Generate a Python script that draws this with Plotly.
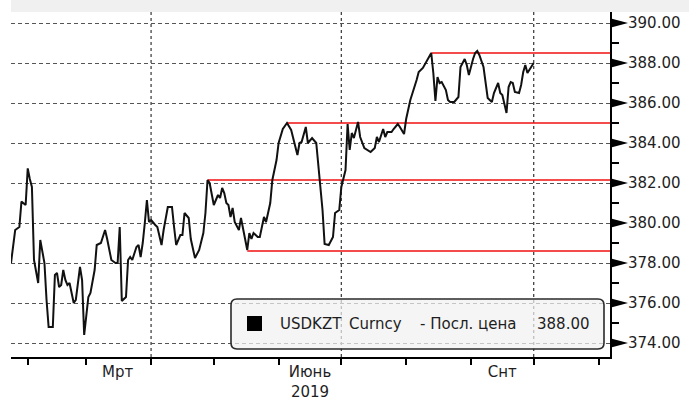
import plotly.graph_objects as go

# ---------------- data ----------------
dates = [
    # Jan / Feb
    "2019-01-24", "2019-01-26", "2019-01-28", "2019-01-29", "2019-01-31",
    "2019-02-01", "2019-02-02", "2019-02-03", "2019-02-04", "2019-02-05",
    "2019-02-06", "2019-02-07", "2019-02-08", "2019-02-09", "2019-02-10",
    "2019-02-11", "2019-02-13", "2019-02-14", "2019-02-15", "2019-02-16",
    "2019-02-17", "2019-02-18", "2019-02-19", "2019-02-20", "2019-02-21",
    "2019-02-22", "2019-02-23", "2019-02-24", "2019-02-26", "2019-02-27",
    "2019-02-28",
    # Mar
    "2019-03-02", "2019-03-03", "2019-03-05", "2019-03-06", "2019-03-08",
    "2019-03-10", "2019-03-11", "2019-03-13", "2019-03-15", "2019-03-16",
    "2019-03-17", "2019-03-18", "2019-03-20", "2019-03-21", "2019-03-22",
    "2019-03-23", "2019-03-25", "2019-03-26", "2019-03-27", "2019-03-28",
    "2019-03-29", "2019-03-30", "2019-03-31",
    # Apr
    "2019-04-01", "2019-04-03", "2019-04-04", "2019-04-06", "2019-04-07",
    "2019-04-09", "2019-04-11", "2019-04-12", "2019-04-13", "2019-04-15",
    "2019-04-16", "2019-04-17", "2019-04-19", "2019-04-20", "2019-04-22",
    "2019-04-24", "2019-04-26", "2019-04-27", "2019-04-28", "2019-04-29",
    # May
    "2019-05-01", "2019-05-03", "2019-05-04", "2019-05-05", "2019-05-06",
    "2019-05-07", "2019-05-08", "2019-05-09", "2019-05-10", "2019-05-11",
    "2019-05-13", "2019-05-14", "2019-05-15", "2019-05-16", "2019-05-17",
    "2019-05-18", "2019-05-19", "2019-05-20", "2019-05-22", "2019-05-23",
    "2019-05-24", "2019-05-25", "2019-05-26", "2019-05-28", "2019-05-29",
    "2019-05-31",
    # Jun
    "2019-06-01", "2019-06-03", "2019-06-05", "2019-06-07", "2019-06-10",
    "2019-06-11", "2019-06-12", "2019-06-14", "2019-06-15", "2019-06-17",
    "2019-06-19", "2019-06-20", "2019-06-22", "2019-06-23", "2019-06-25",
    "2019-06-27", "2019-06-28", "2019-06-30",
    # Jul
    "2019-07-01", "2019-07-03", "2019-07-04", "2019-07-05", "2019-07-06",
    "2019-07-07", "2019-07-08", "2019-07-09", "2019-07-10", "2019-07-12",
    "2019-07-15", "2019-07-17", "2019-07-18", "2019-07-19", "2019-07-21",
    "2019-07-22", "2019-07-23", "2019-07-25", "2019-07-26", "2019-07-28",
    "2019-07-29", "2019-07-31",
    # Aug
    "2019-08-01", "2019-08-03", "2019-08-06", "2019-08-07", "2019-08-09",
    "2019-08-11", "2019-08-13", "2019-08-14", "2019-08-15", "2019-08-16",
    "2019-08-17", "2019-08-18", "2019-08-20", "2019-08-21", "2019-08-22",
    "2019-08-24", "2019-08-26", "2019-08-27", "2019-08-29", "2019-08-30",
    "2019-08-31",
    # Sep / Oct
    "2019-09-02", "2019-09-03", "2019-09-04", "2019-09-05", "2019-09-07",
    "2019-09-08", "2019-09-09", "2019-09-11", "2019-09-12", "2019-09-14",
    "2019-09-15", "2019-09-16", "2019-09-17", "2019-09-18", "2019-09-19",
    "2019-09-20", "2019-09-21", "2019-09-22", "2019-09-24", "2019-09-25",
    "2019-09-26", "2019-09-27", "2019-09-28", "2019-09-30", "2019-10-01",
]

usdkzt = [
    # Jan / Feb
    378.0, 379.65, 379.8, 381.07, 380.9,
    382.73, 382.2, 381.8, 378.15, 377.5,
    377.0, 379.15, 378.5, 378.0, 376.15,
    374.8, 374.8, 377.4, 377.5, 376.8,
    376.9, 377.65, 377.15, 376.9, 377.0,
    376.5, 376.0, 376.15, 377.8, 377.15,
    374.4,
    # Mar
    376.3, 376.5, 377.65, 378.9, 379.0,
    379.65, 379.2, 378.15, 378.0, 378.0,
    379.8, 376.1, 376.3, 378.15, 378.3,
    378.15, 378.8, 378.9, 378.3, 379.0,
    380.0, 381.15, 380.05,
    # Apr
    380.15, 379.9, 379.8, 378.9, 379.65,
    380.8, 380.8, 379.8, 378.9, 379.4,
    379.4, 380.5, 380.25, 379.2, 378.25,
    378.65, 379.5, 380.5, 382.15, 382.0,
    # May
    380.9, 381.4, 381.25, 381.75, 381.5,
    381.0, 380.9, 380.3, 380.75, 380.05,
    379.65, 380.25, 379.65, 379.05, 378.65,
    379.5, 379.2, 379.5, 379.3, 379.3,
    379.9, 380.3, 380.05, 381.0, 382.15,
    383.15,
    # Jun
    384.0, 384.7, 385.0, 384.65, 383.4,
    384.0, 384.05, 384.8, 384.0, 384.25,
    384.0, 382.8, 380.65, 378.95, 378.9,
    379.3, 380.5, 380.65,
    # Jul
    381.8, 382.65, 384.95, 383.65, 384.5,
    384.25, 384.65, 385.05, 384.3, 383.75,
    383.55, 383.75, 384.3, 384.05, 384.7,
    384.3, 384.55, 384.55, 384.7, 384.95,
    384.8, 384.45,
    # Aug
    385.2, 386.15, 387.15, 387.55, 387.75,
    388.15, 388.5, 387.5, 386.1, 387.3,
    387.0, 387.05, 386.65, 386.15, 386.05,
    386.05, 386.3, 387.8, 388.2, 387.9,
    387.4,
    # Sep / Oct
    388.2, 388.5, 388.6, 388.4, 387.8,
    387.0, 386.25, 386.05, 386.5, 387.0,
    386.5, 386.4, 385.9, 385.5, 386.8,
    387.05, 387.0, 386.55, 386.5, 386.9,
    387.55, 387.9, 387.5, 387.8, 388.0,
]
assert len(dates) == len(usdkzt)

# horizontal support / resistance levels (start date, level)
level_start = ["2019-04-28", "2019-05-17", "2019-06-05", "2019-08-13"]
level_value = [382.15, 378.6, 385.0, 388.5]

y_ticks = [374, 376, 378, 380, 382, 384, 386, 388, 390]
y_minor = [375, 377, 379, 381, 383, 385, 387, 389]
month_starts = ["2019-02-01", "2019-03-01", "2019-04-01", "2019-05-01",
                "2019-06-01", "2019-07-01", "2019-08-01", "2019-09-01",
                "2019-10-01", "2019-11-01"]
quarter_starts = ["2019-04-01", "2019-07-01", "2019-10-01"]
label_dates = ["2019-03-16", "2019-06-16", "2019-09-16"]
label_text = ["Мрт", "Июнь<br>2019", "Снт"]
legend_parts = ["USDKZT", "Curncy", "- Посл. цена"]

X_RANGE = ["2019-01-24", "2019-11-06 12:00"]
Y_RANGE = [373.3, 390.55]

# ---------------- layout geometry ----------------
W, H = 689, 401
ML, MR, MT, MB = 11, 79, 12, 44
PW, PH = W - ML - MR, H - MT - MB
FONT = "DejaVu Sans"
TXT = "#1e1e1e"


def px_x(px):
    return (px - ML) / PW


def px_y(py):
    return (H - MB - py) / PH


fig = go.Figure()

# level lines
for start, lvl in zip(level_start, level_value):
    fig.add_trace(go.Scatter(
        x=[start, X_RANGE[1]], y=[lvl, lvl], mode="lines",
        line=dict(color="#f01010", width=1.6), hoverinfo="skip",
        showlegend=False))

# main series
fig.add_trace(go.Scatter(
    x=dates, y=usdkzt, mode="lines",
    line=dict(color="#111111", width=2), showlegend=False,
    name="USDKZT Curncy"))

shapes = []
# top gray band
shapes.append(dict(type="rect", xref="paper", yref="paper",
                   x0=0, x1=px_x(W), y0=1, y1=px_y(0),
                   fillcolor="#f0f0f0", line=dict(width=0), layer="below"))
# vertical quarter grid lines
for q in quarter_starts:
    shapes.append(dict(type="line", xref="x", yref="paper", x0=q, x1=q,
                       y0=0, y1=1, layer="below",
                       line=dict(color="#444444", width=1.3, dash="3px,3px")))
# right-axis arrow markers at major ticks
tx0, tx1 = px_x(ML + PW + 1), px_x(ML + PW + 18)
for t in y_ticks:
    shapes.append(dict(type="path", xref="paper", yref="y",
                       path=f"M {tx0},{t + 0.23} L {tx1},{t} L {tx0},{t - 0.23} Z",
                       fillcolor="#000000", line=dict(width=0), layer="above"))

# legend box (rounded rect)
bx0, bx1 = px_x(231), px_x(604)
by0, by1 = px_y(349), px_y(299)
rx, ry = 6 / PW, 6 / PH
box_path = (f"M {bx0 + rx},{by1} L {bx1 - rx},{by1} Q {bx1},{by1} {bx1},{by1 - ry} "
            f"L {bx1},{by0 + ry} Q {bx1},{by0} {bx1 - rx},{by0} "
            f"L {bx0 + rx},{by0} Q {bx0},{by0} {bx0},{by0 + ry} "
            f"L {bx0},{by1 - ry} Q {bx0},{by1} {bx0 + rx},{by1} Z")
shapes.append(dict(type="path", xref="paper", yref="paper", path=box_path,
                   fillcolor="rgba(241,241,241,0.72)",
                   line=dict(color="#2a2a2a", width=1.6), layer="above"))
shapes.append(dict(type="rect", xref="paper", yref="paper",
                   x0=px_x(247), x1=px_x(262), y0=px_y(331), y1=px_y(316),
                   fillcolor="#000000", line=dict(width=0), layer="above"))

annotations = []
ly = px_y(323.5)
for part, xpx in zip(legend_parts, [278, 347, 418]):
    annotations.append(dict(xref="paper", yref="paper", x=px_x(xpx), y=ly,
                            text=part, showarrow=False, xanchor="left",
                            yanchor="middle",
                            font=dict(family=FONT, size=15, color=TXT)))
annotations.append(dict(xref="paper", yref="paper", x=px_x(535), y=ly,
                        text=f"{usdkzt[-1]:.2f}", showarrow=False,
                        xanchor="left", yanchor="middle",
                        font=dict(family=FONT, size=15, color=TXT)))

fig.update_layout(
    width=W, height=H,
    margin=dict(l=ML, r=MR, t=MT, b=MB, pad=0),
    paper_bgcolor="white", plot_bgcolor="white",
    font=dict(family=FONT, size=15, color=TXT),
    shapes=shapes, annotations=annotations,
    showlegend=False,
    xaxis=dict(
        type="date", range=X_RANGE, showgrid=False, zeroline=False,
        showline=True, linecolor="#000000", linewidth=2,
        tickmode="array", tickvals=label_dates, ticktext=label_text,
        ticks="", ticklabelstandoff=0,
        tickfont=dict(family=FONT, size=15, color=TXT),
        minor=dict(tickmode="array", tickvals=month_starts, ticks="outside",
                   ticklen=6, tickwidth=1.5, tickcolor="#000000",
                   showgrid=False),
        automargin=False, fixedrange=True,
    ),
    yaxis=dict(
        side="right", range=Y_RANGE, zeroline=False,
        showline=True, linecolor="#000000", linewidth=2,
        tickmode="array", tickvals=y_ticks,
        ticktext=[f"{t:.2f}" for t in y_ticks],
        ticks="", ticklabelstandoff=13,
        tickfont=dict(family=FONT, size=15, color=TXT),
        showgrid=True, gridcolor="#555555", gridwidth=1.3,
        griddash="4px,3px",
        minor=dict(tickmode="array", tickvals=y_minor, ticks="outside",
                   ticklen=7, tickwidth=1.5, tickcolor="#000000",
                   showgrid=False),
        automargin=False, fixedrange=True,
    ),
)

# remove the browser's default 8px page margin so the figure fills the window
fig.write_html("out.html", config={"displayModeBar": False},
               post_script="document.body.style.margin='0';")
